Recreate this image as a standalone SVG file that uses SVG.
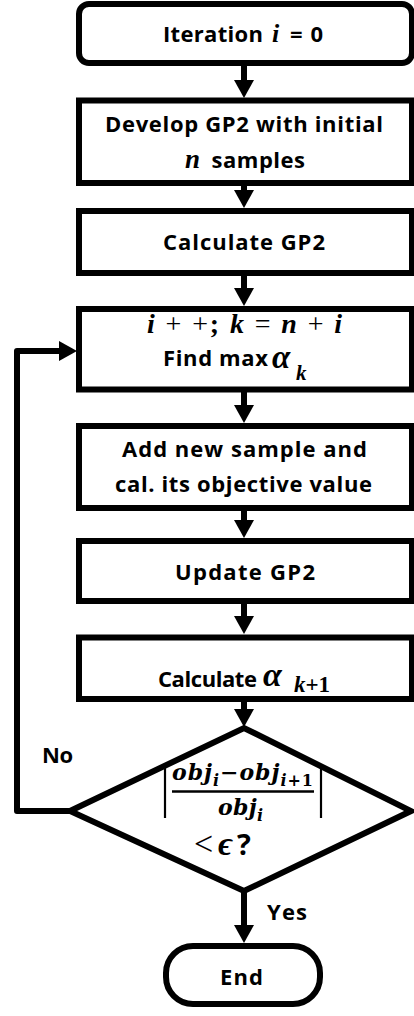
<svg xmlns="http://www.w3.org/2000/svg" width="414" height="1016" viewBox="0 0 414 1016">
  <style>
    .box { fill: #fff; stroke: #000; stroke-width: 6; }
    .link { fill: none; stroke: #000; stroke-width: 6; }
    .t { font-family: "Open Sans", "Liberation Sans", sans-serif; font-weight: 700; font-size: 22px; fill: #000; }
    .m { font-family: "Liberation Serif", "DejaVu Serif", serif; font-weight: 700; font-size: 27px; fill: #000; }
    .f { font-family: "DejaVu Serif", "Liberation Serif", serif; font-weight: 700; font-style: italic; font-size: 22px; fill: #000; }
    .mi { font-style: italic; }
    .mo { font-style: normal; font-weight: 400; }
    .rule { stroke: #000; stroke-width: 2.2; }
  </style>
  <defs>
    <marker id="ah" markerUnits="userSpaceOnUse" markerWidth="20" markerHeight="20" refX="4" refY="10" orient="auto">
      <path d="M0,0 L18,10 L0,20 Z" fill="#000"/>
    </marker>
  </defs>

  <!-- connectors -->
  <g id="connectors">
    <line class="link" x1="244" y1="64" x2="244" y2="84" marker-end="url(#ah)"/>
    <line class="link" x1="244" y1="184" x2="244" y2="194" marker-end="url(#ah)"/>
    <line class="link" x1="244" y1="274" x2="244" y2="292" marker-end="url(#ah)"/>
    <line class="link" x1="244" y1="390" x2="244" y2="409" marker-end="url(#ah)"/>
    <line class="link" x1="244" y1="509" x2="244" y2="524" marker-end="url(#ah)"/>
    <line class="link" x1="244" y1="602" x2="244" y2="620" marker-end="url(#ah)"/>
    <line class="link" x1="244" y1="700" x2="244" y2="713" marker-end="url(#ah)"/>
    <line class="link" x1="244" y1="890" x2="244" y2="929" marker-end="url(#ah)"/>
    <path class="link" d="M70,811 H17 V351 H63" stroke-linejoin="round" marker-end="url(#ah)"/>
  </g>

  <!-- start -->
  <g id="start">
    <rect class="box" x="79" y="4" width="333" height="59" rx="10"/>
    <text class="t" x="163" y="41.5" textLength="100" lengthAdjust="spacing">Iteration</text>
    <text class="m mi" x="272" y="41.5" style="font-size:26px">i</text>
    <text class="t" x="290" y="41.5" textLength="33" lengthAdjust="spacing">= 0</text>
  </g>

  <!-- develop GP2 -->
  <g id="develop">
    <rect class="box" x="79" y="100.5" width="333" height="82.5"/>
    <text class="t" x="105" y="131.5" textLength="278" lengthAdjust="spacing">Develop GP2 with initial</text>
    <text class="m mi" x="185" y="168" style="font-size:27px">n</text>
    <text class="t" x="211.5" y="168" textLength="93.5" lengthAdjust="spacing">samples</text>
  </g>

  <!-- calculate GP2 -->
  <g id="calc-gp2">
    <rect class="box" x="79" y="211" width="333" height="62"/>
    <text class="t" x="163" y="250" textLength="162" lengthAdjust="spacing">Calculate GP2</text>
  </g>

  <!-- increment and find max acquisition -->
  <g id="find-max">
    <rect class="box" x="79" y="309" width="333" height="80.5"/>
    <text class="m" x="147" y="333" style="font-size:28px" textLength="195" lengthAdjust="spacing"><tspan class="mi">i</tspan> <tspan class="mo">+</tspan> <tspan class="mo">+</tspan>; <tspan class="mi">k</tspan> <tspan class="mo">=</tspan> <tspan class="mi">n</tspan> <tspan class="mo">+</tspan> <tspan class="mi">i</tspan></text>
    <text class="t" x="163" y="366" textLength="105" lengthAdjust="spacing">Find max</text>
    <text class="m mi" x="272" y="368" style="font-size:33px">α</text>
    <text class="m mi" x="296" y="380" style="font-size:21px">k</text>
  </g>

  <!-- add sample -->
  <g id="add-sample">
    <rect class="box" x="79" y="426" width="333" height="82"/>
    <text class="t" x="122" y="456.5" textLength="245" lengthAdjust="spacing">Add new sample and</text>
    <text class="t" x="115" y="491.5" textLength="257" lengthAdjust="spacing">cal. its objective value</text>
  </g>

  <!-- update GP2 -->
  <g id="update">
    <rect class="box" x="79" y="541" width="333" height="60"/>
    <text class="t" x="175" y="580" textLength="140" lengthAdjust="spacing">Update GP2</text>
  </g>

  <!-- calculate alpha k+1 -->
  <g id="calc-alpha">
    <rect class="box" x="79" y="637.5" width="333" height="61.5"/>
    <text class="t" x="158" y="686.5" textLength="99" lengthAdjust="spacing">Calculate</text>
    <text class="m mi" x="263" y="686" style="font-size:34px">α</text>
    <text class="m" x="294" y="692" style="font-size:23px"><tspan class="mi">k</tspan>+1</text>
  </g>

  <!-- convergence check -->
  <g id="check">
    <polygon class="box" points="70,811 244,728 411,811 244,891" stroke-width="6.5" stroke-linejoin="miter"/>
    <line class="rule" x1="165" y1="767" x2="165" y2="818"/>
    <line class="rule" x1="321" y1="767" x2="321" y2="818"/>
    <text class="f" x="172" y="780" textLength="141" lengthAdjust="spacing">obj<tspan style="font-size:16px" dy="6">i</tspan><tspan font-style="normal" dy="-6">−</tspan>obj<tspan style="font-size:16px" dy="6">i<tspan font-style="normal">+1</tspan></tspan></text>
    <line x1="172" y1="791.5" x2="314" y2="791.5" stroke="#000" stroke-width="2.6"/>
    <text class="f" x="218" y="815" textLength="45" lengthAdjust="spacing">obj<tspan style="font-size:16px" dy="6">i</tspan></text>
    <text class="m mo" x="194" y="855" style="font-size:34px">&lt;</text>
    <text class="m mi" x="218" y="855" style="font-size:34px">ϵ</text>
    <text class="t" x="237" y="855" style="font-size:29px">?</text>
  </g>

  <!-- branch labels -->
  <g id="label-no">
    <text class="t" x="42" y="763" textLength="31" lengthAdjust="spacing">No</text>
  </g>
  <g id="label-yes">
    <text class="t" x="267" y="920" textLength="40" lengthAdjust="spacing">Yes</text>
  </g>

  <!-- end -->
  <g id="end">
    <rect class="box" x="166" y="946" width="154" height="58" rx="27"/>
    <text class="t" x="220" y="985" textLength="43" lengthAdjust="spacing">End</text>
  </g>
</svg>
